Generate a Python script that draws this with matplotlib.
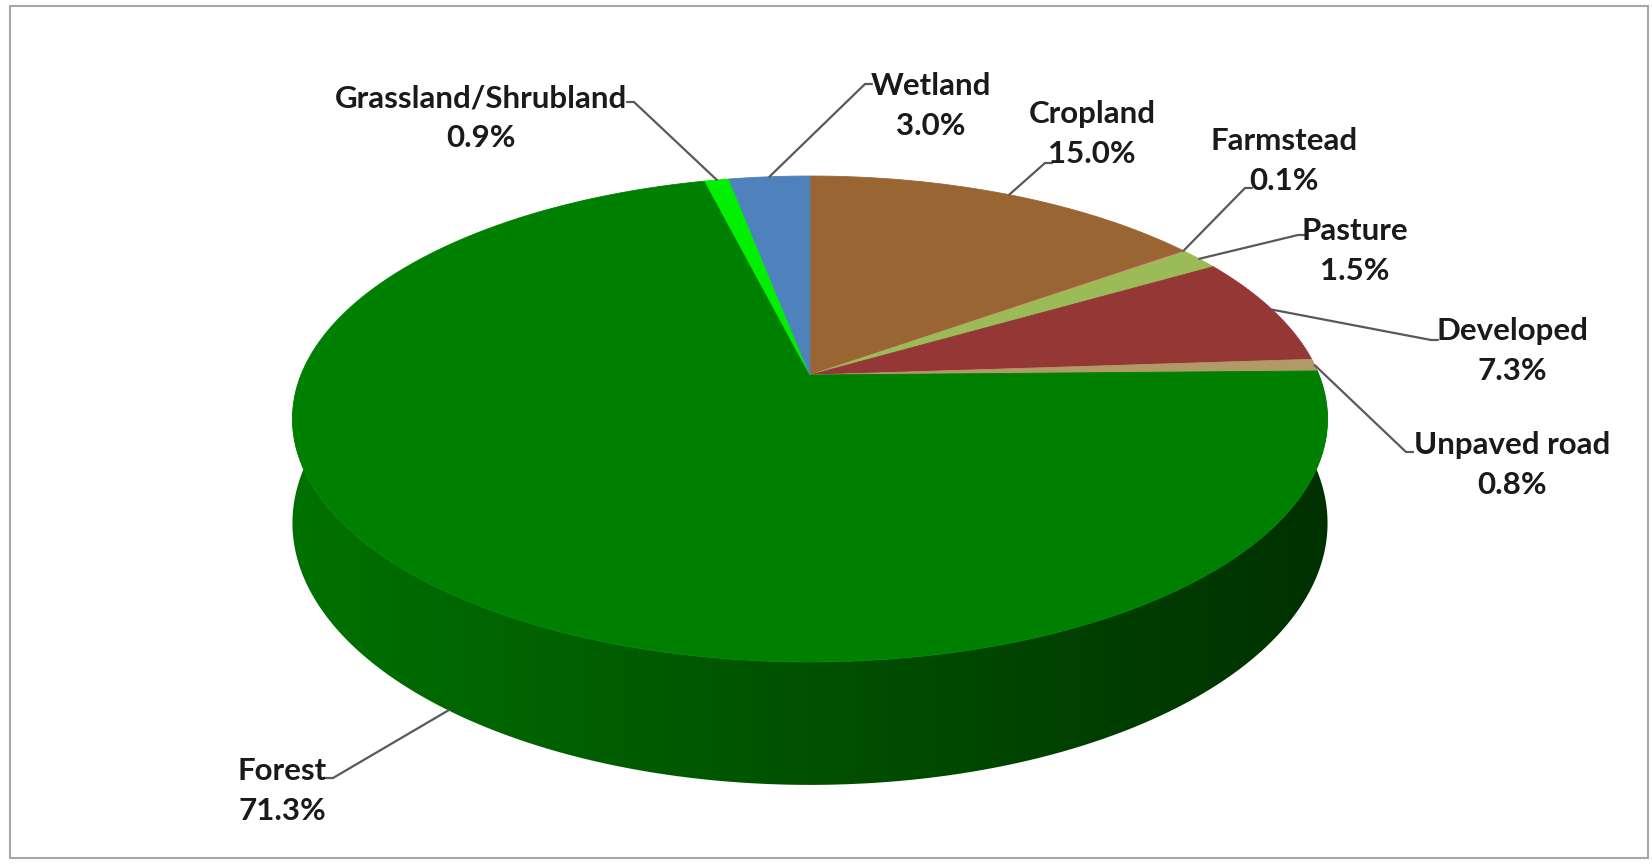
import numpy as np
import matplotlib.pyplot as plt
from matplotlib.patches import Polygon, Rectangle

# land cover shares (%), clockwise from 12 o'clock
categories = ['Cropland', 'Farmstead', 'Pasture', 'Developed', 'Unpaved road',
              'Forest', 'Grassland/Shrubland', 'Wetland']
shares = [15.0, 0.1, 1.5, 7.3, 0.8, 71.3, 0.9, 3.0]
colors = ['#996633', '#c0504d', '#9bbb59', '#953735', '#b09a68',
          '#008000', '#00f000', '#4f81bd']

# label centre and leader start (canvas pixels)
label_xy = [(1092, 134), (1284, 161), (1355, 251), (1512, 351), (1512, 465),
            (282, 791), (481, 118), (931, 106)]
leader_xy = [(1052, 163), (1252, 188), (1305, 235), (1438, 340), (1413, 452),
             (326, 778), (627, 102), (872, 84)]
hook = [-7, -7, -7, -7, -7, 7, 7, -7]

# 3d pie geometry (perspective view of a disc)
CX, CY = 810, 375
A, B, G, D = 509, 235, 0.181, 100.7


def project(theta, depth=0.0):
    x = np.sin(theta)
    y = -np.cos(theta)
    w = 1 - G * y
    return CX + A * x / w, CY + (B * y + depth) / w


fig = plt.figure(figsize=(16.52, 8.64), dpi=100)
ax = fig.add_axes([0, 0, 1, 1])

ax.add_patch(Rectangle((10, 6), 1638, 852, fill=False, edgecolor='#a6a6a6', lw=1.5))

# side wall, shaded left to right (gradient clipped to the wall outline)
ts = np.radians(np.linspace(85, 275, 400))
xt, yt = project(ts)
xb, yb = project(ts, D)
verts = list(zip(xt, yt)) + list(zip(xb[::-1], yb[::-1]))
wall = Polygon(verts, closed=True, facecolor='none', edgecolor='none')
ax.add_patch(wall)
f = np.linspace(0, 1, 512)
grad = np.zeros((1, 512, 3))
grad[0, :, 1] = (114 - 66 * f) / 255
img = ax.imshow(grad, extent=[280, 1340, 800, 360], aspect='auto', interpolation='bilinear')
img.set_clip_path(wall)

# top face
total = sum(shares)
bounds = np.concatenate([[0], np.cumsum(shares)]) / total * 2 * np.pi
for i, c in enumerate(colors):
    t = np.linspace(bounds[i], bounds[i + 1], max(3, int(shares[i] * 8)))
    px, py = project(t)
    pts = [(CX, CY)] + list(zip(px, py))
    ax.add_patch(Polygon(pts, closed=True, facecolor=c, edgecolor=c, lw=0.6))

# labels and leader lines
for i, name in enumerate(categories):
    mid = 0.5 * (bounds[i] + bounds[i + 1])
    if name == 'Forest':
        ex, ey = project(mid, D)
    else:
        ex, ey = project(mid)
    sx, sy = leader_xy[i]
    ax.plot([sx, sx + hook[i], ex], [sy, sy, ey], color='#595959', lw=1.6, solid_capstyle='round')
    ax.text(label_xy[i][0], label_xy[i][1], f'{name}\n{shares[i]:.1f}%', ha='center', va='center',
            fontsize=22.5, fontfamily='Lato', fontweight='bold', color='#1a1a1a', linespacing=1.5)

ax.set_xlim(0, 1652)
ax.set_ylim(864, 0)
ax.axis('off')

fig.savefig('out.png', dpi=100)
